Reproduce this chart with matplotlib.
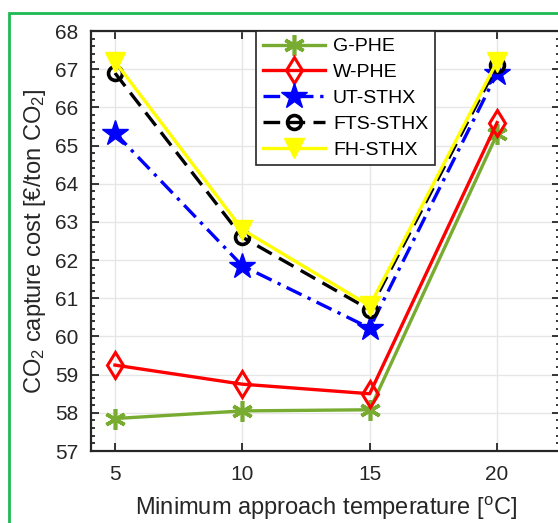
import numpy as np
import matplotlib.pyplot as plt
from matplotlib.patches import Rectangle
from matplotlib.ticker import MultipleLocator

plt.rcParams['font.family'] = ['Liberation Sans', 'DejaVu Sans']
plt.rcParams['mathtext.default'] = 'regular'

# dados
temps = [5, 10, 15, 20]
g_phe = [57.85, 58.05, 58.08, 65.30]
w_phe = [59.25, 58.75, 58.50, 65.60]
ut_sthx = [65.33, 61.85, 60.22, 66.90]
fts_sthx = [66.90, 62.60, 60.70, 67.10]
fh_sthx = [67.20, 62.80, 60.80, 67.20]

fig = plt.figure(figsize=(5.58, 5.23), dpi=100)

# moldura verde em volta da figura
fig.patches.append(Rectangle((9 / 558, -0.05), 1.1, 1 - 13 / 523 + 0.05,
                             transform=fig.transFigure, fill=False,
                             edgecolor='#1db954', linewidth=2))

ax = fig.add_axes([91 / 558, 72 / 523, 469 / 558, 420 / 523])

ax.plot(temps, g_phe, color='#77AC30', lw=2.4, marker=(6, 2, 0), ms=15,
        mew=2.6, label='G-PHE')
ax.plot(temps, w_phe, color='red', lw=2.4, marker='d', ms=13, mfc='none',
        mew=2.2, label='W-PHE')
ax.plot(temps, ut_sthx, color='blue', lw=2.4, ls=(0, (5, 2, 1, 2)),
        marker='*', ms=19, label='UT-STHX')
ax.plot(temps, fts_sthx, color='black', lw=2.4, ls=(0, (5, 2.5)),
        marker='o', ms=10, mfc='none', mew=2.6, label='FTS-STHX')
ax.plot(temps, fh_sthx, color='yellow', lw=2.4, marker='v', ms=14,
        label='FH-STHX')

ax.set_xlim(4.06, 22.47)
ax.set_ylim(57, 68)
ax.set_xticks(temps)
ax.yaxis.set_major_locator(MultipleLocator(1))
ax.yaxis.set_minor_locator(MultipleLocator(0.2))
ax.tick_params(which='both', direction='in', top=True, right=True,
               labelsize=15, colors='#262626', width=1.3)
ax.tick_params(which='major', length=6)
ax.tick_params(which='minor', length=3)
ax.tick_params(axis='x', pad=10)
ax.tick_params(axis='y', pad=9)
for s in ax.spines.values():
    s.set_linewidth(1.6)
    s.set_color('#262626')
ax.grid(True, color='#e6e6e6', linewidth=1)
ax.set_axisbelow(True)

ax.set_xlabel('Minimum approach temperature [$^{o}$C]', fontsize=17,
              color='#262626', labelpad=8)
ax.set_ylabel('CO$_2$ capture cost [€/ton CO$_2$]', fontsize=17,
              color='#262626', labelpad=5)

leg = ax.legend(loc='upper left', bbox_to_anchor=(0.352, 1.0), fontsize=14,
                frameon=True, fancybox=False, edgecolor='#262626',
                framealpha=1, handlelength=3.2, labelspacing=0.42,
                borderaxespad=0, handletextpad=0.4, borderpad=0.35)
leg.get_frame().set_linewidth(1.2)

plt.savefig('out.png', dpi=100)
